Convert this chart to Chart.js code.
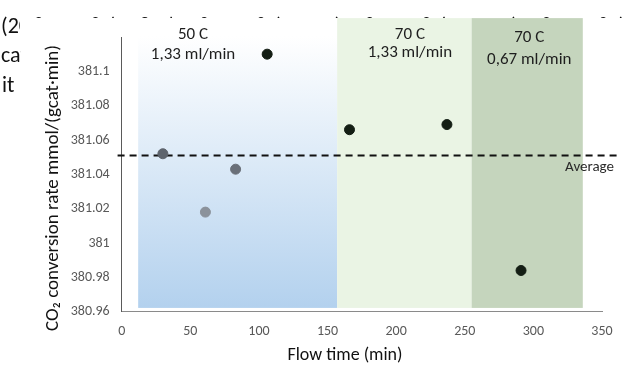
<!DOCTYPE html>
<html>
<head>
<meta charset="utf-8">
<script src="https://cdn.jsdelivr.net/npm/chart.js@4"></script>
<style>
  html, body { margin: 0; padding: 0; background: #ffffff; }
  #c { display: block; }
</style>
</head>
<body>
<canvas id="c" width="629" height="367"></canvas>
<script>
// ---- data ----
const flowTime = [30, 61, 83, 106, 166, 237, 291];            // min
const conversionRate = [381.052, 381.018, 381.043, 381.11, 381.066, 381.069, 380.984];
const averageRate = 381.051;
const xTicks = [0, 50, 100, 150, 200, 250, 300, 350];
const yTickValues = [380.96, 380.98, 381, 381.02, 381.04, 381.06, 381.08, 381.1];
const regionStart = [12, 157, 255];
const regionEnd = [157, 255, 336];
const regionTitles = ['50 C', '70 C', '70 C'];
const regionFlows = ['1,33 ml/min', '1,33 ml/min', '0,67 ml/min'];

// ---- styling / layout (not data) ----
const pointColors = ['#5e646d', '#8b929b', '#6a7079', '#141e14', '#141e14', '#141e14', '#141e14'];
const regionTop = 381.131, regionBottom = 380.9622;
const labelAnchorX = [52, 210, 297];
const labelLine1Y = [381.1214, 381.1214, 381.1197];
const labelLine2Y = [381.1097, 381.1109, 381.1068];
const FONT = 'Carlito, Lato, "Liberation Sans", sans-serif';

const decor = {
  id: 'decor',
  beforeDraw(chart) {
    const ctx = chart.ctx;
    ctx.save();
    ctx.fillStyle = '#ffffff';
    ctx.fillRect(0, 0, chart.width, chart.height);
    // clipped text from the surrounding document
    ctx.fillStyle = '#111111';
    ctx.font = '22px ' + FONT;
    ctx.textBaseline = 'alphabetic';
    ctx.textAlign = 'left';
    ctx.save();
    ctx.beginPath();
    ctx.rect(0, 0, chart.width, 18);
    ctx.rect(0, 0, 20, 40);
    ctx.clip();
    ctx.fillText('(20 °C, 50 °C), 380 (30 °C, 50 °C), 131 (30 °C, 30 °C), 1410 (30 °C, 70 °C)', 1, 32.5);
    ctx.restore();
    ctx.beginPath();
    ctx.rect(0, 0, 21, chart.height);
    ctx.clip();
    ctx.fillText('catalyst activity', 1, 62);
    ctx.fillText('it    was', 2, 92);
    ctx.restore();
  },
  beforeDatasetsDraw(chart) {
    const ctx = chart.ctx, xs = chart.scales.x, ys = chart.scales.y;
    const yT = ys.getPixelForValue(regionTop), yB = ys.getPixelForValue(regionBottom);
    const fills = [];
    const g = ctx.createLinearGradient(0, yT + 18, 0, yB);
    g.addColorStop(0, '#ffffff');
    g.addColorStop(1, '#b3d1ee');
    fills.push(g, '#eaf4e4', '#c5d5bd');
    ctx.save();
    for (let i = 0; i < regionStart.length; i++) {
      const x0 = xs.getPixelForValue(regionStart[i]);
      const x1 = xs.getPixelForValue(regionEnd[i]);
      ctx.fillStyle = fills[i];
      ctx.fillRect(x0, yT, x1 - x0, yB - yT);
    }
    ctx.fillStyle = '#1e1e1e';
    ctx.font = '17px ' + FONT;
    ctx.textAlign = 'center';
    ctx.textBaseline = 'middle';
    for (let i = 0; i < regionTitles.length; i++) {
      const x = xs.getPixelForValue(labelAnchorX[i]);
      ctx.fillText(regionTitles[i], x, ys.getPixelForValue(labelLine1Y[i]));
      ctx.fillText(regionFlows[i], x, ys.getPixelForValue(labelLine2Y[i]));
    }
    ctx.restore();
  },
  afterDatasetsDraw(chart) {
    const ctx = chart.ctx, xs = chart.scales.x, ys = chart.scales.y;
    ctx.save();
    ctx.fillStyle = '#2b2b2b';
    ctx.font = '15px ' + FONT;
    ctx.textAlign = 'right';
    ctx.textBaseline = 'middle';
    ctx.fillText('Average', 614, ys.getPixelForValue(averageRate) + 12);
    // axis titles
    ctx.fillStyle = '#111111';
    ctx.font = '18px ' + FONT;
    ctx.textAlign = 'center';
    ctx.fillText('Flow time (min)', 345, 355);
    ctx.font = '19px ' + FONT;
    ctx.translate(53, 188);
    ctx.rotate(-Math.PI / 2);
    ctx.fillText('CO\u2082 conversion rate mmol/(gcat\u00b7min)', 0, 0);
    ctx.restore();
  }
};

const fmt = v => {
  if (Math.abs(v - 381.12) < 1e-6) return '';
  return String(parseFloat(Number(v).toFixed(2)));
};

new Chart(document.getElementById('c'), {
  type: 'scatter',
  data: {
    datasets: [
      {
        label: 'CO2 conversion rate',
        data: flowTime.map((x, i) => ({ x: x, y: conversionRate[i] })),
        pointBackgroundColor: pointColors,
        pointBorderColor: pointColors,
        pointRadius: 5,
        pointHoverRadius: 5
      },
      {
        label: 'Average',
        type: 'line',
        data: [{ x: -3, y: averageRate }, { x: 361, y: averageRate }],
        borderColor: '#111111',
        borderWidth: 2,
        borderDash: [7, 5],
        pointRadius: 0,
        fill: false,
        clip: false
      }
    ]
  },
  options: {
    responsive: false,
    devicePixelRatio: 1,
    animation: false,
    events: [],
    layout: { padding: { left: 0, right: 27, top: 37, bottom: 0 } },
    plugins: { legend: { display: false }, tooltip: { enabled: false } },
    scales: {
      x: {
        type: 'linear',
        min: 0, max: 350,
        afterBuildTicks: s => { s.ticks = xTicks.map(v => ({ value: v })); },
        afterFit: s => { s.height = 55.3; },
        grid: { display: false, drawTicks: false },
        border: { display: true, color: '#8a8a8a', width: 1 },
        ticks: { color: '#595959', font: { family: FONT, size: 14 }, padding: 11, maxRotation: 0 }
      },
      y: {
        min: 380.96, max: 381.12,
        afterBuildTicks: s => { s.ticks = yTickValues.map(v => ({ value: v })); },
        afterFit: s => { s.width = 121.7; },
        grid: { display: false, drawTicks: false },
        border: { display: true, color: '#5a5a5a', width: 1 },
        ticks: { color: '#595959', font: { family: FONT, size: 14 }, padding: 12, callback: v => fmt(v) }
      }
    }
  },
  plugins: [decor]
});
</script>
</body>
</html>
